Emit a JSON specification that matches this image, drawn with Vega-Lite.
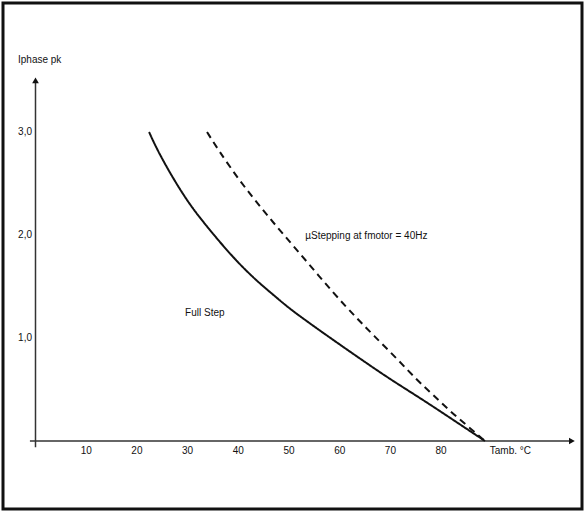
{
  "$schema": "https://vega.github.io/schema/vega-lite/v6.json",
  "width": 579,
  "height": 506,
  "padding": 3,
  "autosize": {"type": "none"},
  "background": "white",
  "config": {
    "view": {"stroke": "#111", "strokeWidth": 3},
    "text": {"font": "Liberation Sans", "fontSize": 10, "fill": "#111"}
  },
  "datasets": {
    "curves": [
      {"series": "Full Step", "x": 22.4, "y": 3.0},
      {"series": "Full Step", "x": 23.96, "y": 2.83},
      {"series": "Full Step", "x": 27.12, "y": 2.55},
      {"series": "Full Step", "x": 30.47, "y": 2.29},
      {"series": "Full Step", "x": 33.83, "y": 2.08},
      {"series": "Full Step", "x": 38.95, "y": 1.78},
      {"series": "Full Step", "x": 43.69, "y": 1.55},
      {"series": "Full Step", "x": 47.63, "y": 1.39},
      {"series": "Full Step", "x": 50.2, "y": 1.28},
      {"series": "Full Step", "x": 56.71, "y": 1.05},
      {"series": "Full Step", "x": 63.41, "y": 0.82},
      {"series": "Full Step", "x": 69.92, "y": 0.6},
      {"series": "Full Step", "x": 76.43, "y": 0.4},
      {"series": "Full Step", "x": 83.14, "y": 0.18},
      {"series": "Full Step", "x": 88.66, "y": 0.0},
      {"series": "uStepping", "x": 33.83, "y": 3.0},
      {"series": "uStepping", "x": 35.99, "y": 2.83},
      {"series": "uStepping", "x": 40.34, "y": 2.52},
      {"series": "uStepping", "x": 44.87, "y": 2.24},
      {"series": "uStepping", "x": 48.82, "y": 2.01},
      {"series": "uStepping", "x": 53.55, "y": 1.74},
      {"series": "uStepping", "x": 58.68, "y": 1.44},
      {"series": "uStepping", "x": 63.41, "y": 1.19},
      {"series": "uStepping", "x": 66.57, "y": 1.03},
      {"series": "uStepping", "x": 71.3, "y": 0.8},
      {"series": "uStepping", "x": 75.25, "y": 0.59},
      {"series": "uStepping", "x": 78.4, "y": 0.45},
      {"series": "uStepping", "x": 81.76, "y": 0.29},
      {"series": "uStepping", "x": 85.11, "y": 0.15},
      {"series": "uStepping", "x": 88.66, "y": 0.0}
    ],
    "axes": [
      {"x": -1.1, "x2": 105.5, "y": 0, "y2": 0},
      {"x": 0, "x2": 0, "y": -0.06, "y2": 3.5}
    ],
    "arrows": [
      {"x": 105.8, "y": 0, "shape": "triangle-right"},
      {"x": 0, "y": 3.5, "shape": "triangle-up"}
    ],
    "xticks": [
      {"x": 10, "y": -0.097, "label": "10"},
      {"x": 20, "y": -0.097, "label": "20"},
      {"x": 30, "y": -0.097, "label": "30"},
      {"x": 40, "y": -0.097, "label": "40"},
      {"x": 50, "y": -0.097, "label": "50"},
      {"x": 60, "y": -0.097, "label": "60"},
      {"x": 70, "y": -0.097, "label": "70"},
      {"x": 80, "y": -0.097, "label": "80"}
    ],
    "yticks": [
      {"x": -0.69, "y": 1, "label": "1,0"},
      {"x": -0.69, "y": 2, "label": "2,0"},
      {"x": -0.69, "y": 3, "label": "3,0"}
    ],
    "notes": [
      {"x": -3.45, "y": 3.7, "label": "Iphase pk"},
      {"x": 89.6, "y": -0.097, "label": "Tamb. °C"},
      {"x": 53.2, "y": 1.99, "label": "µStepping  at  fmotor = 40Hz"},
      {"x": 29.5, "y": 1.24, "label": "Full  Step"}
    ]
  },
  "encoding": {
    "x": {"field": "x", "type": "quantitative", "scale": {"domain": [-6.41, 107.79], "nice": false, "zero": false}, "axis": null},
    "y": {"field": "y", "type": "quantitative", "scale": {"domain": [-0.66, 4.252], "nice": false, "zero": false}, "axis": null}
  },
  "layer": [
    {
      "data": {"name": "axes"},
      "mark": {"type": "rule", "stroke": "#333", "strokeWidth": 1.5},
      "encoding": {
        "x2": {"field": "x2"},
        "y2": {"field": "y2"}
      }
    },
    {
      "data": {"name": "arrows"},
      "mark": {"type": "point", "filled": true, "fill": "#111", "size": 45, "opacity": 1},
      "encoding": {
        "shape": {"field": "shape", "type": "nominal", "scale": null}
      }
    },
    {
      "data": {"name": "curves"},
      "mark": {"type": "line", "stroke": "#111", "strokeWidth": 2, "interpolate": "basis"},
      "encoding": {
        "detail": {"field": "series"},
        "strokeDash": {"field": "series", "type": "nominal", "scale": {"domain": ["Full Step", "uStepping"], "range": [[1, 0], [7, 5]]}, "legend": null}
      }
    },
    {
      "data": {"name": "xticks"},
      "mark": {"type": "text", "align": "center", "baseline": "middle"},
      "encoding": {"text": {"field": "label"}}
    },
    {
      "data": {"name": "yticks"},
      "mark": {"type": "text", "align": "right", "baseline": "middle"},
      "encoding": {"text": {"field": "label"}}
    },
    {
      "data": {"name": "notes"},
      "mark": {"type": "text", "align": "left", "baseline": "middle"},
      "encoding": {"text": {"field": "label"}}
    }
  ]
}
